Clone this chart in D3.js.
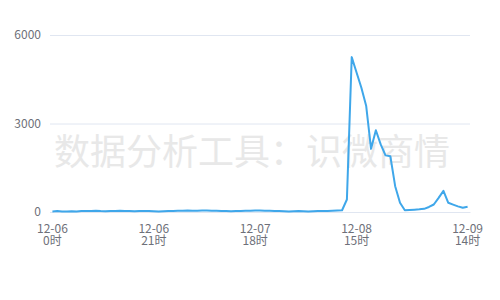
<!DOCTYPE html>
<html>
<head>
<meta charset="utf-8">
<script src="https://cdn.jsdelivr.net/npm/d3@7"></script>
<style>
  body { margin: 0; background: #fff; }
  text { font-family: "Noto Sans CJK SC", "Noto Sans", sans-serif; }
</style>
</head>
<body>
<div id="chart"></div>
<script>
// hourly values, 12-06 0时 .. 12-09 14时 (87 hours)
var days = ["12-06", "12-07", "12-08", "12-09"];
var values = [
  20, 30, 15, 20, 25, 20, 30, 35, 30, 40, 30, 25, 35, 30, 40, 35, 30, 25, 30, 35,
  30, 25, 20, 25, 30, 35, 40, 45, 50, 40, 45, 50, 55, 45, 40, 35, 30, 25, 30, 35,
  40, 45, 55, 50, 45, 40, 35, 30, 25, 20, 25, 30, 25, 20, 25, 30, 35, 30, 40, 50,
  60, 424, 5250, 4730, 4210, 3590, 2140, 2770, 2290, 1920, 1890, 875, 312, 60, 70, 80,
  90, 108, 170, 254, 480, 718, 312, 250, 190, 142, 176
];
var yTicks = [0, 3000, 6000];
var xTickIdx = [0, 21, 42, 63, 86];

var margin = {top: 35, right: 30, bottom: 88, left: 50},
  width = 500 - margin.left - margin.right,
  height = 300 - margin.top - margin.bottom;

var labels = values.map(function(v, i) {
  return days[Math.floor(i / 24)] + "\n" + (i % 24) + "时";
});

var svg = d3.select("#chart")
.append("svg")
  .attr("width", 500)
  .attr("height", 300);

// watermark
svg.append("text")
  .attr("x", 252)
  .attr("y", 165)
  .attr("text-anchor", "middle")
  .style("font-size", "36px")
  .style("fill", "#e8e8e8")
  .text("数据分析工具：识微商情");

var g = svg.append("g")
  .attr("transform", "translate(" + margin.left + "," + margin.top + ")");

var x = d3.scaleBand()
  .domain(d3.range(values.length))
  .range([0, width]);

var y = d3.scaleLinear()
  .domain([0, 6000])
  .range([height, 0]);

// grid + y labels
var yAxis = g.append("g")
  .call(d3.axisLeft(y).tickValues(yTicks).tickSize(-width).tickPadding(9).tickFormat(d3.format("d")));
yAxis.select(".domain").remove();
yAxis.selectAll(".tick line").attr("stroke", "#e0e6f1");
yAxis.selectAll(".tick text")
  .attr("fill", "#6e7079")
  .style("font-size", "12px");

// x labels (two lines: date / hour)
var xAxis = g.append("g")
  .attr("transform", "translate(0," + height + ")")
  .call(d3.axisBottom(x).tickValues(xTickIdx).tickSize(0).tickFormat(""));
xAxis.select(".domain").attr("stroke", "#e0e6f1");
xAxis.selectAll(".tick").each(function(d) {
  var parts = labels[d].split("\n");
  var t = d3.select(this).append("text")
    .attr("fill", "#6e7079")
    .attr("text-anchor", "middle")
    .style("font-size", "12px");
  t.append("tspan").attr("x", 0).attr("y", 21).text(parts[0]);
  t.append("tspan").attr("x", 0).attr("y", 33).text(parts[1]);
});

var line = d3.line()
  .x(function(d, i) { return x(i) + x.bandwidth() / 2; })
  .y(function(d) { return y(d); });

g.append("path")
  .datum(values)
  .attr("fill", "none")
  .attr("stroke", "#3fa7ea")
  .attr("stroke-width", 2)
  .attr("stroke-linejoin", "round")
  .attr("d", line);
</script>
</body>
</html>
